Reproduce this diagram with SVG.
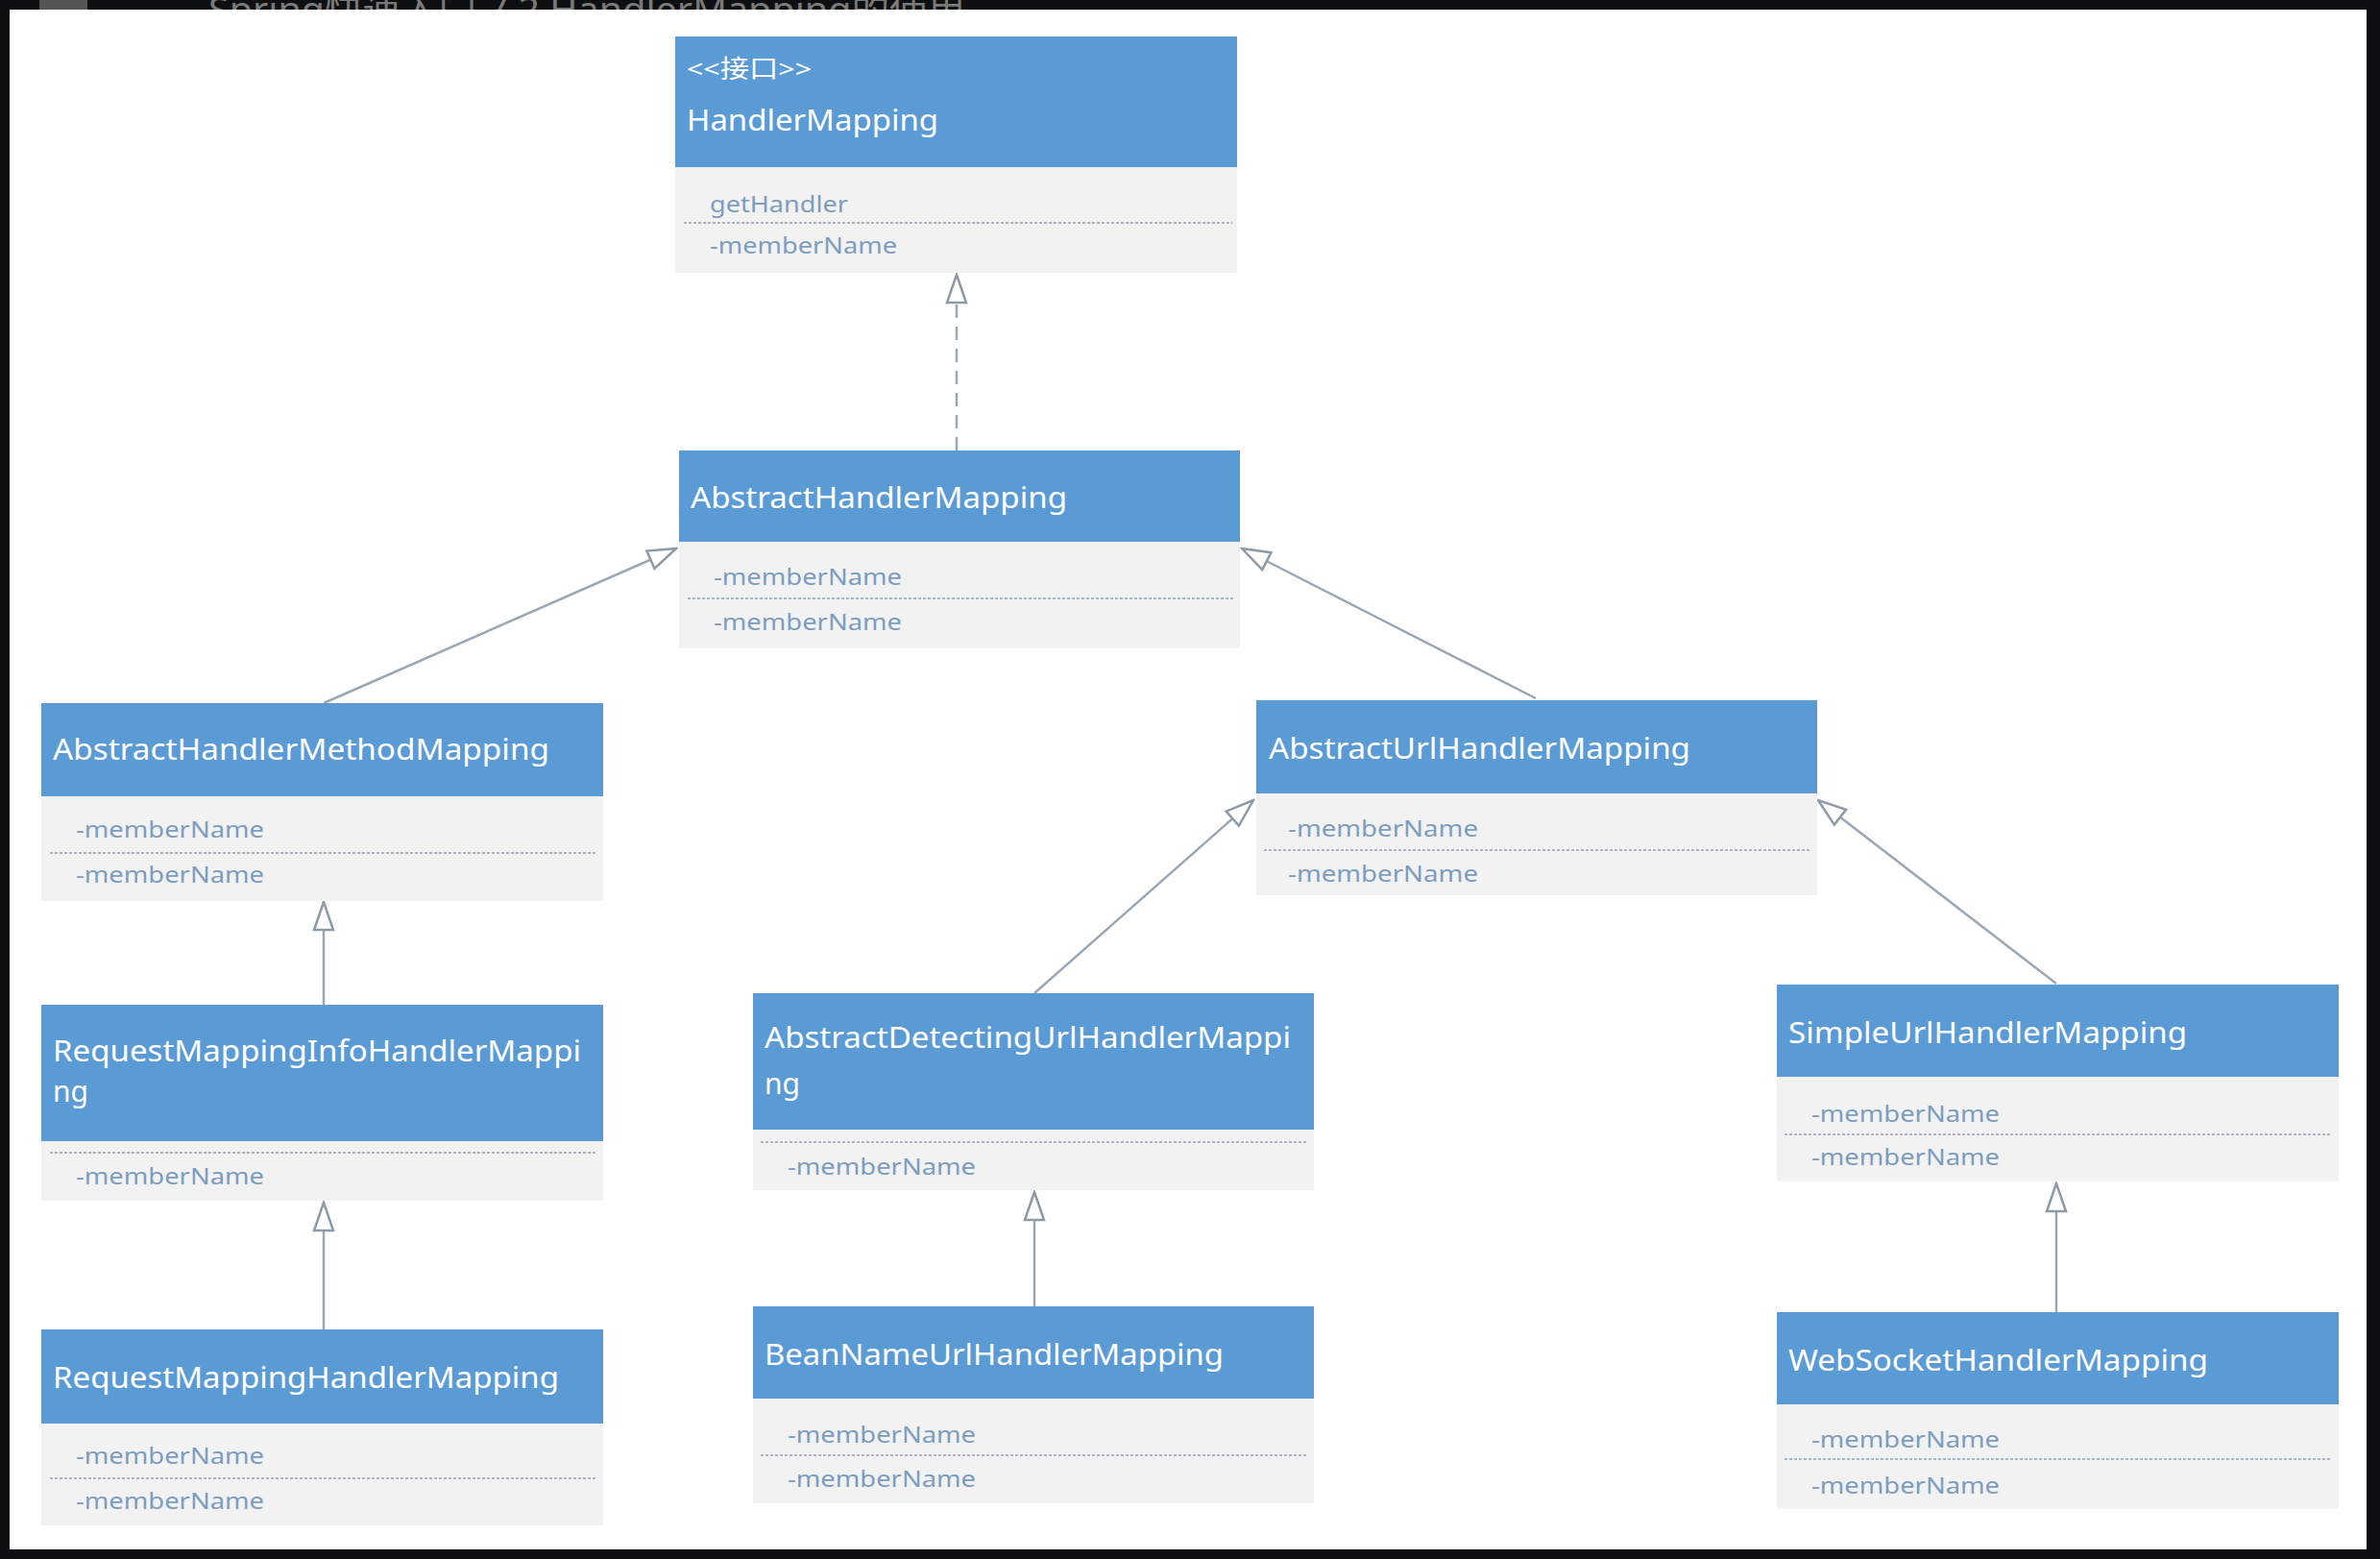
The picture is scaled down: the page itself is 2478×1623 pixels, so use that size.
<svg xmlns="http://www.w3.org/2000/svg" width="2478" height="1623" viewBox="0 0 2478 1623">
<style>
.hdr{fill:#5b9bd5}
.body{fill:#f2f2f2}
.sep{stroke:#a9b4bf;stroke-width:2;stroke-dasharray:3 2}
.ht{font-family:"Noto Sans","Open Sans",sans-serif;font-size:31px;fill:#ffffff}
.st{font-family:"Noto Sans","Noto Sans CJK SC",sans-serif;font-size:26px;fill:#ffffff}
.mt{font-family:"Noto Sans","Open Sans",sans-serif;font-size:23px;fill:#7d9dbf}
.con{stroke:#9aa7b4;stroke-width:2.5;fill:none}
.dash{stroke-dasharray:14 9}
</style>
<defs>
<marker id="tri" markerUnits="userSpaceOnUse" markerWidth="34" markerHeight="26" viewBox="-32 -12 34 24" refX="0" refY="0" orient="auto">
<path d="M0,0 L-29,-10 L-29,10 Z" fill="#ffffff" stroke="#8e9aa6" stroke-width="2.5" stroke-linejoin="miter"/>
</marker>
</defs>
<rect x="0" y="0" width="2478" height="1623" fill="#0e0f11"/>
<rect x="41" y="0" width="50" height="10" fill="#555555"/>
<text x="217" y="24" font-family="Noto Sans,Noto Sans CJK SC,sans-serif" font-size="38" fill="#7a7a7a" textLength="788" lengthAdjust="spacingAndGlyphs">Spring快速入门 7.2 HandlerMapping的使用</text>
<rect x="10" y="10" width="2454" height="1603" fill="#ffffff"/>

<g id="connectors">
<line class="con dash" x1="996" y1="469" x2="996" y2="286" marker-end="url(#tri)"/>
<line class="con" x1="337" y1="732" x2="704" y2="571" marker-end="url(#tri)"/>
<line class="con" x1="1599" y1="727" x2="1293" y2="571" marker-end="url(#tri)"/>
<line class="con" x1="337" y1="1046" x2="337" y2="939" marker-end="url(#tri)"/>
<line class="con" x1="337" y1="1384" x2="337" y2="1252" marker-end="url(#tri)"/>
<line class="con" x1="1077" y1="1034" x2="1305" y2="833" marker-end="url(#tri)"/>
<line class="con" x1="1077" y1="1360" x2="1077" y2="1241" marker-end="url(#tri)"/>
<line class="con" x1="2141" y1="1024" x2="1893" y2="833" marker-end="url(#tri)"/>
<line class="con" x1="2141" y1="1366" x2="2141" y2="1232" marker-end="url(#tri)"/>
</g>

<g id="HandlerMapping">
<rect class="body" x="703" y="174" width="585" height="110"/>
<rect class="hdr" x="703" y="38" width="585" height="136"/>
<text class="st" x="715" y="81" textLength="130" lengthAdjust="spacingAndGlyphs">&lt;&lt;接口&gt;&gt;</text>
<text class="ht" x="715" y="136" textLength="262" lengthAdjust="spacingAndGlyphs">HandlerMapping</text>
<text class="mt" x="739" y="221" textLength="144" lengthAdjust="spacingAndGlyphs">getHandler</text>
<line class="sep" x1="712" y1="232" x2="1283" y2="232"/>
<text class="mt" x="739" y="264" textLength="195" lengthAdjust="spacingAndGlyphs">-memberName</text>
</g>

<g id="AbstractHandlerMapping">
<rect class="body" x="707" y="564" width="584" height="111"/>
<rect class="hdr" x="707" y="469" width="584" height="95"/>
<text class="ht" x="719" y="529" textLength="392" lengthAdjust="spacingAndGlyphs">AbstractHandlerMapping</text>
<text class="mt" x="743" y="609" textLength="196" lengthAdjust="spacingAndGlyphs">-memberName</text>
<line class="sep" x1="716" y1="623" x2="1284" y2="623"/>
<text class="mt" x="743" y="656" textLength="196" lengthAdjust="spacingAndGlyphs">-memberName</text>
</g>

<g id="AbstractHandlerMethodMapping">
<rect class="body" x="43" y="829" width="585" height="109"/>
<rect class="hdr" x="43" y="732" width="585" height="97"/>
<text class="ht" x="55" y="791" textLength="517" lengthAdjust="spacingAndGlyphs">AbstractHandlerMethodMapping</text>
<text class="mt" x="79" y="872" textLength="196" lengthAdjust="spacingAndGlyphs">-memberName</text>
<line class="sep" x1="52" y1="888" x2="620" y2="888"/>
<text class="mt" x="79" y="919" textLength="196" lengthAdjust="spacingAndGlyphs">-memberName</text>
</g>

<g id="RequestMappingInfoHandlerMapping">
<rect class="body" x="43" y="1188" width="585" height="62"/>
<rect class="hdr" x="43" y="1046" width="585" height="142"/>
<text class="ht" x="55" y="1105" textLength="550" lengthAdjust="spacingAndGlyphs">RequestMappingInfoHandlerMappi</text>
<text class="ht" x="55" y="1147" textLength="37" lengthAdjust="spacingAndGlyphs">ng</text>
<line class="sep" x1="52" y1="1200" x2="620" y2="1200"/>
<text class="mt" x="79" y="1233" textLength="196" lengthAdjust="spacingAndGlyphs">-memberName</text>
</g>

<g id="RequestMappingHandlerMapping">
<rect class="body" x="43" y="1482" width="585" height="106"/>
<rect class="hdr" x="43" y="1384" width="585" height="98"/>
<text class="ht" x="55" y="1445" textLength="527" lengthAdjust="spacingAndGlyphs">RequestMappingHandlerMapping</text>
<text class="mt" x="79" y="1524" textLength="196" lengthAdjust="spacingAndGlyphs">-memberName</text>
<line class="sep" x1="52" y1="1539" x2="620" y2="1539"/>
<text class="mt" x="79" y="1571" textLength="196" lengthAdjust="spacingAndGlyphs">-memberName</text>
</g>

<g id="AbstractUrlHandlerMapping">
<rect class="body" x="1308" y="826" width="584" height="106"/>
<rect class="hdr" x="1308" y="729" width="584" height="97"/>
<text class="ht" x="1321" y="790" textLength="439" lengthAdjust="spacingAndGlyphs">AbstractUrlHandlerMapping</text>
<text class="mt" x="1341" y="871" textLength="198" lengthAdjust="spacingAndGlyphs">-memberName</text>
<line class="sep" x1="1316" y1="885" x2="1884" y2="885"/>
<text class="mt" x="1341" y="918" textLength="198" lengthAdjust="spacingAndGlyphs">-memberName</text>
</g>

<g id="AbstractDetectingUrlHandlerMapping">
<rect class="body" x="784" y="1176" width="584" height="63"/>
<rect class="hdr" x="784" y="1034" width="584" height="142"/>
<text class="ht" x="796" y="1091" textLength="548" lengthAdjust="spacingAndGlyphs">AbstractDetectingUrlHandlerMappi</text>
<text class="ht" x="796" y="1139" textLength="37" lengthAdjust="spacingAndGlyphs">ng</text>
<line class="sep" x1="792" y1="1189" x2="1360" y2="1189"/>
<text class="mt" x="820" y="1223" textLength="196" lengthAdjust="spacingAndGlyphs">-memberName</text>
</g>

<g id="BeanNameUrlHandlerMapping">
<rect class="body" x="784" y="1456" width="584" height="109"/>
<rect class="hdr" x="784" y="1360" width="584" height="96"/>
<text class="ht" x="796" y="1421" textLength="478" lengthAdjust="spacingAndGlyphs">BeanNameUrlHandlerMapping</text>
<text class="mt" x="820" y="1502" textLength="196" lengthAdjust="spacingAndGlyphs">-memberName</text>
<line class="sep" x1="792" y1="1515" x2="1360" y2="1515"/>
<text class="mt" x="820" y="1548" textLength="196" lengthAdjust="spacingAndGlyphs">-memberName</text>
</g>

<g id="SimpleUrlHandlerMapping">
<rect class="body" x="1850" y="1121" width="585" height="109"/>
<rect class="hdr" x="1850" y="1025" width="585" height="96"/>
<text class="ht" x="1862" y="1086" textLength="415" lengthAdjust="spacingAndGlyphs">SimpleUrlHandlerMapping</text>
<text class="mt" x="1886" y="1168" textLength="196" lengthAdjust="spacingAndGlyphs">-memberName</text>
<line class="sep" x1="1858" y1="1181" x2="2427" y2="1181"/>
<text class="mt" x="1886" y="1213" textLength="196" lengthAdjust="spacingAndGlyphs">-memberName</text>
</g>

<g id="WebSocketHandlerMapping">
<rect class="body" x="1850" y="1462" width="585" height="109"/>
<rect class="hdr" x="1850" y="1366" width="585" height="96"/>
<text class="ht" x="1862" y="1427" textLength="437" lengthAdjust="spacingAndGlyphs">WebSocketHandlerMapping</text>
<text class="mt" x="1886" y="1507" textLength="196" lengthAdjust="spacingAndGlyphs">-memberName</text>
<line class="sep" x1="1858" y1="1519" x2="2427" y2="1519"/>
<text class="mt" x="1886" y="1555" textLength="196" lengthAdjust="spacingAndGlyphs">-memberName</text>
</g>
</svg>
